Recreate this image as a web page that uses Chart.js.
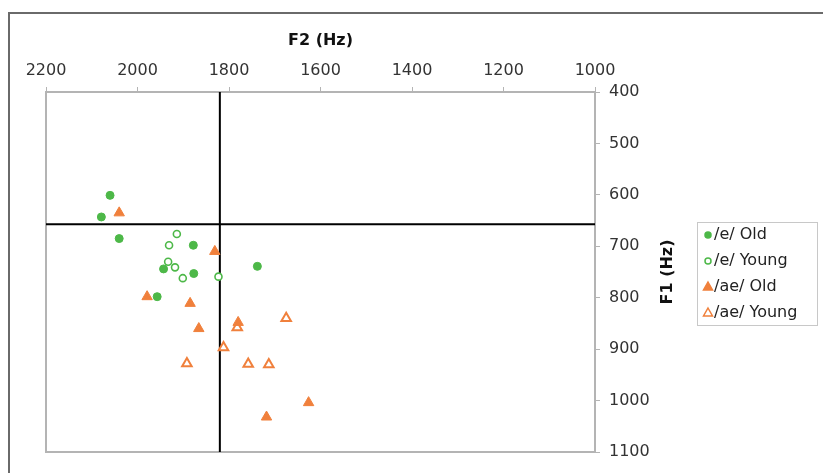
<!DOCTYPE html>
<html>
<head>
<meta charset="utf-8">
<script src="https://cdn.jsdelivr.net/npm/chart.js@4.4.1/dist/chart.umd.min.js"></script>
<style>
  html, body { margin: 0; padding: 0; background: #fff; overflow: hidden; }
  #frame { position: absolute; left: 8px; top: 12px; width: 900px; height: 600px; border: 2px solid #6a6a6a; }
  #chart { position: absolute; left: 0; top: 0; }
</style>
</head>
<body>
<div id="frame"></div>
<canvas id="chart" width="823" height="473"></canvas>
<script>
// F2 (x) and F1 (y) in Hz
const eOldF2 = [2060, 2079, 2040, 1878, 1943, 1877, 1957, 1738];
const eOldF1 = [601, 643, 685, 698, 744, 753, 798, 739];
const eYoungF2 = [1914, 1931, 1933, 1918, 1901, 1823];
const eYoungF1 = [676, 698, 730, 741, 762, 759];
const aeOldF2 = [2040, 1831, 1979, 1885, 1866, 1780, 1626, 1718];
const aeOldF1 = [635, 710, 798, 811, 860, 848, 1004, 1032];
const aeYoungF2 = [1782, 1675, 1812, 1892, 1758, 1713];
const aeYoungF1 = [858, 840, 897, 928, 929, 930];
const seriesLabels = ['/e/ Old', '/e/ Young', '/ae/ Old', '/ae/ Young'];

// crosshair (mean values)
const crossF2 = 1820;
const crossF1 = 657;

const F2_MIN = 1000, F2_MAX = 2200, F2_STEP = 200;
const F1_MIN = 400, F1_MAX = 1100, F1_STEP = 100;

const green = '#4db848';
const orange = '#f0803c';
const font = 'DejaVu Sans';

function pts(xs, ys) {
    return xs.map((x, i) => ({ x: x, y: ys[i] }));
}

// left + bottom border of the plot area, axis title F1, boxed legend
const extras = {
    id: 'extras',
    beforeDatasetsDraw(chart) {
        const a = chart.chartArea, ctx = chart.ctx;
        ctx.save();
        ctx.strokeStyle = '#b4b4b4';
        ctx.lineWidth = 2;
        ctx.beginPath();
        ctx.moveTo(a.left, a.top);
        ctx.lineTo(a.left, a.bottom);
        ctx.lineTo(a.right, a.bottom);
        ctx.stroke();
        ctx.restore();
    },
    afterDraw(chart) {
        const a = chart.chartArea, ctx = chart.ctx;
        ctx.save();
        // y axis title, reads bottom to top
        ctx.translate(668, (a.top + a.bottom) / 2);
        ctx.rotate(-Math.PI / 2);
        ctx.font = 'bold 16px "' + font + '"';
        ctx.fillStyle = '#111';
        ctx.textAlign = 'center';
        ctx.textBaseline = 'middle';
        ctx.fillText('F1 (Hz)', 0, 0);
        ctx.restore();

        // legend
        ctx.save();
        ctx.strokeStyle = '#c8c8c8';
        ctx.lineWidth = 1;
        ctx.strokeRect(697.5, 222.5, 120, 103);
        ctx.font = '16px "' + font + '"';
        ctx.textBaseline = 'middle';
        ctx.fillStyle = '#222';
        const sets = chart.data.datasets.filter(d => !d.isGuide);
        sets.forEach((d, i) => {
            const y = 235 + i * 26, x = 708;
            ctx.lineWidth = 1.5;
            ctx.strokeStyle = d.borderColor;
            ctx.fillStyle = d.backgroundColor;
            ctx.beginPath();
            if (d.pointStyle === 'circle') {
                ctx.arc(x, y, 3, 0, Math.PI * 2);
            } else {
                ctx.moveTo(x, y - 5);
                ctx.lineTo(x + 4.5, y + 3);
                ctx.lineTo(x - 4.5, y + 3);
                ctx.closePath();
            }
            ctx.fill();
            ctx.stroke();
            ctx.fillStyle = '#222';
            ctx.fillText(d.label, 714, y);
        });
        ctx.restore();
    }
};

const ctx = document.getElementById('chart').getContext('2d');
const chart = new Chart(ctx, {
    type: 'scatter',
    data: {
        datasets: [{
            label: seriesLabels[0],
            data: pts(eOldF2, eOldF1),
            pointStyle: 'circle',
            pointRadius: 4,
            backgroundColor: green,
            borderColor: green,
            borderWidth: 1
        }, {
            label: seriesLabels[1],
            data: pts(eYoungF2, eYoungF1),
            pointStyle: 'circle',
            pointRadius: 3.5,
            backgroundColor: '#fff',
            borderColor: green,
            borderWidth: 1.6
        }, {
            label: seriesLabels[2],
            data: pts(aeOldF2, aeOldF1),
            pointStyle: 'triangle',
            pointRadius: 6,
            backgroundColor: orange,
            borderColor: orange,
            borderWidth: 1
        }, {
            label: seriesLabels[3],
            data: pts(aeYoungF2, aeYoungF1),
            pointStyle: 'triangle',
            pointRadius: 5.5,
            backgroundColor: '#fff',
            borderColor: orange,
            borderWidth: 2
        }, {
            label: 'meanF2',
            isGuide: true,
            type: 'line',
            data: [{ x: crossF2, y: F1_MIN }, { x: crossF2, y: F1_MAX }],
            borderColor: '#000',
            borderWidth: 2,
            pointRadius: 0
        }, {
            label: 'meanF1',
            isGuide: true,
            type: 'line',
            data: [{ x: F2_MAX, y: crossF1 }, { x: F2_MIN, y: crossF1 }],
            borderColor: '#000',
            borderWidth: 2,
            pointRadius: 0
        }]
    },
    options: {
        responsive: false,
        animation: false,
        devicePixelRatio: 1,
        layout: { padding: { top: 14, left: 46, right: 168, bottom: 21 } },
        plugins: {
            legend: { display: false },
            tooltip: { enabled: false }
        },
        scales: {
            x: {
                type: 'linear',
                position: 'top',
                reverse: true,
                min: F2_MIN,
                max: F2_MAX,
                afterFit: s => { s.height = 78; },
                ticks: {
                    stepSize: F2_STEP,
                    padding: 7,
                    color: '#333',
                    font: { family: font, size: 16 },
                    callback: v => String(v)
                },
                grid: { drawOnChartArea: false, tickLength: 5, color: '#b4b4b4' },
                border: { color: '#b4b4b4', width: 2 },
                title: {
                    display: true,
                    text: 'F2 (Hz)',
                    color: '#111',
                    padding: { top: 17, bottom: 0 },
                    font: { family: font, size: 16, weight: 'bold' }
                }
            },
            y: {
                type: 'linear',
                position: 'right',
                reverse: true,
                min: F1_MIN,
                max: F1_MAX,
                afterFit: s => { s.width = 60; },
                ticks: {
                    stepSize: F1_STEP,
                    padding: 9,
                    color: '#333',
                    font: { family: font, size: 16 },
                    callback: v => String(v)
                },
                grid: { drawOnChartArea: false, tickLength: 5, color: '#b4b4b4' },
                border: { color: '#b4b4b4', width: 2 }
            }
        }
    },
    plugins: [extras]
});
</script>
</body>
</html>
